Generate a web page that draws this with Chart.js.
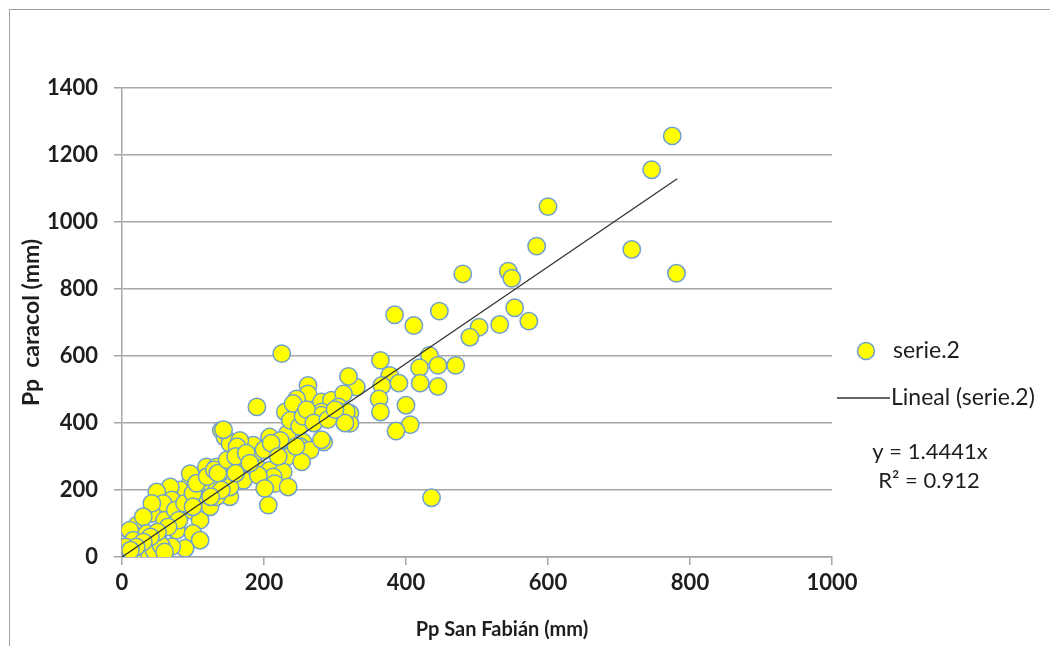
<!DOCTYPE html>
<html>
<head>
<meta charset="utf-8">
<script src="https://cdn.jsdelivr.net/npm/chart.js@4.4.1/dist/chart.umd.min.js"></script>
<style>
  html, body { margin: 0; padding: 0; background: #ffffff; }
  #wrap { position: relative; width: 1050px; height: 646px; overflow: hidden; }
  #frame { position: absolute; left: 9px; top: 9px; width: 1100px; height: 700px;
           border-left: 1px solid #a0a0a0; border-top: 1px solid #a0a0a0; }
  canvas { position: absolute; left: 0; top: 0; }
</style>
</head>
<body>
<div id="wrap">
  <div id="frame"></div>
  <canvas id="c" width="1050" height="646"></canvas>
</div>
<script>
// ---- Data ----
const sanFabian = [
  775, 746, 600, 584, 718, 781, 544, 549, 480, 553, 573, 532, 503, 490,
  384, 411, 447, 433, 364, 419, 445, 470, 377, 390, 420, 445, 330, 366,
  362, 400, 364, 406, 386, 321, 321, 436, 225, 190, 319, 262, 262, 246,
  281, 295, 312, 305, 316, 314, 281, 281, 239, 230, 241, 233, 208, 223,
  284, 255, 251, 265, 232, 253, 215, 185, 185, 171, 140, 145, 152, 166,
  171, 152, 138, 119, 169, 192, 208, 227, 213, 143, 162, 237, 241, 133,
  157, 171, 192, 206, 215, 234, 152, 119, 119, 110, 91, 96, 96, 82,
  68, 49, 70, 58, 42, 42, 21, 11, 30, 63, 82, 96, 77, 110,
  100, 110, 89, 70, 49, 39, 25, 7, 0, 16, 115, 124, 133, 133,
  152, 51, 35, 201, 281, 3, 10, 20, 5, 28, 15, 45, 55, 60,
  60, 75, 88, 100, 105, 120, 130, 135, 148, 160, 175, 180, 200, 210,
  220, 245, 250, 255, 260, 270, 290, 300, 160, 140, 125, 100, 80, 65,
  50, 40, 30, 20, 12
];
const caracol = [
  1257, 1156, 1046, 928, 918, 847, 853, 832, 845, 744, 704, 694, 686, 656,
  723, 691, 734, 602, 587, 565, 572, 572, 542, 519, 519, 509, 507, 512,
  472, 453, 433, 395, 376, 429, 399, 177, 607, 448, 539, 512, 487, 472,
  463, 468, 487, 448, 433, 400, 433, 423, 418, 433, 398, 368, 358, 348,
  343, 343, 329, 319, 299, 284, 259, 334, 299, 284, 378, 358, 339, 348,
  309, 289, 269, 269, 279, 264, 259, 254, 239, 380, 329, 408, 458, 269,
  239, 229, 244, 155, 219, 209, 180, 239, 209, 180, 180, 219, 249, 200,
  209, 194, 170, 160, 130, 160, 95, 80, 120, 105, 130, 140, 80, 110,
  70, 50, 26, 31, 50, 31, 41, 11, 1, 50, 170, 150, 180, 219,
  209, 70, 70, 205, 350, 5, 20, 15, 30, 10, 2, 20, 35, 15,
  110, 140, 160, 190, 220, 240, 260, 250, 290, 300, 310, 280, 320, 340,
  300, 330, 390, 420, 440, 400, 410, 440, 250, 200, 180, 150, 110, 90,
  75, 60, 45, 30, 20
];
const trendX = [0, 782];
const trendY = [0, 1129];
const xTicks = [0, 200, 400, 600, 800, 1000];
const yTicks = [0, 200, 400, 600, 800, 1000, 1200, 1400];
const seriesName = 'serie.2';
const trendName = 'Lineal (serie.2)';
const equationLines = ['y = 1.4441x', 'R\u00B2 = 0.912'];
const xTitle = 'Pp San Fabi\u00E1n (mm)';
const yTitle = 'Pp  caracol (mm)';

const points = sanFabian.map((x, i) => ({ x: x, y: caracol[i] }));
const trend = trendX.map((x, i) => ({ x: x, y: trendY[i] }));

const POINT_FILL = '#ffff00';
const POINT_BORDER = '#6f9fd0';
const GRID = '#a6a6a6';
const TEXT = '#1e1e1e';

const legendPlugin = {
  id: 'legendEq',
  afterDraw(chart) {
    const ctx = chart.ctx;
    ctx.save();
    // marker
    ctx.beginPath();
    ctx.arc(866, 351, 8.5, 0, Math.PI * 2);
    ctx.fillStyle = POINT_FILL;
    ctx.fill();
    ctx.lineWidth = 1.5;
    ctx.strokeStyle = POINT_BORDER;
    ctx.stroke();
    // line sample
    ctx.beginPath();
    ctx.moveTo(837, 398);
    ctx.lineTo(890, 398);
    ctx.lineWidth = 1.3;
    ctx.strokeStyle = '#333333';
    ctx.stroke();
    ctx.fillStyle = TEXT;
    ctx.font = '23px Lato';
    ctx.textBaseline = 'middle';
    ctx.textAlign = 'left';
    ctx.fillText(seriesName, 893, 351);
    ctx.fillText(trendName, 891, 398);
    ctx.textAlign = 'center';
    ctx.font = '22px Lato';
    ctx.fillText(equationLines[0], 930, 452);
    ctx.fillText(equationLines[1], 929, 481);
    // x axis title (offset to the right as in the reference)
    ctx.font = 'bold 20px Lato';
    ctx.fillText(xTitle, 502, 630);
    ctx.restore();
  }
};

new Chart(document.getElementById('c'), {
  type: 'scatter',
  data: {
    datasets: [
      {
        label: trendName,
        data: trend,
        showLine: true,
        borderColor: '#333333',
        borderWidth: 1.3,
        pointRadius: 0,
        pointHoverRadius: 0,
        fill: false,
        order: 0
      },
      {
        label: seriesName,
        data: points,
        backgroundColor: POINT_FILL,
        borderColor: POINT_BORDER,
        borderWidth: 1.5,
        pointRadius: 8.7,
        pointHoverRadius: 8.7,
        order: 1
      }
    ]
  },
  options: {
    responsive: false,
    animation: false,
    events: [],
    layout: { padding: { top: 88, right: 218, bottom: 0, left: 0 } },
    plugins: {
      legend: { display: false },
      tooltip: { enabled: false }
    },
    scales: {
      x: {
        type: 'linear',
        min: 0, max: 1000,
        afterBuildTicks: (s) => { s.ticks = xTicks.map(v => ({ value: v })); },
        afterFit: (s) => { s.height = 89; },
        border: { display: true, color: GRID, width: 1.5 },
        grid: { display: true, drawOnChartArea: false, drawTicks: true, tickLength: 8, color: GRID, lineWidth: 1.5 },
        ticks: { color: TEXT, padding: 5, font: { family: 'Lato', size: 22, weight: 'bold' }, maxRotation: 0,
                 callback: (v) => String(v) },
        title: { display: false }
      },
      y: {
        type: 'linear',
        min: 0, max: 1400,
        afterBuildTicks: (s) => { s.ticks = yTicks.map(v => ({ value: v })); },
        afterFit: (s) => { s.width = 122; },
        border: { display: true, color: GRID, width: 1.5 },
        grid: { display: true, drawOnChartArea: true, drawTicks: true, tickLength: 8, color: GRID, lineWidth: 1.5 },
        ticks: { color: TEXT, padding: 16, font: { family: 'Lato', size: 22, weight: 'bold' },
                 callback: (v) => String(v) },
        title: { display: true, text: yTitle, color: TEXT, font: { family: 'Lato', size: 23, weight: 'bold' }, padding: { top: 18, bottom: 0 } }
      }
    }
  },
  plugins: [legendPlugin]
});
</script>
</body>
</html>
